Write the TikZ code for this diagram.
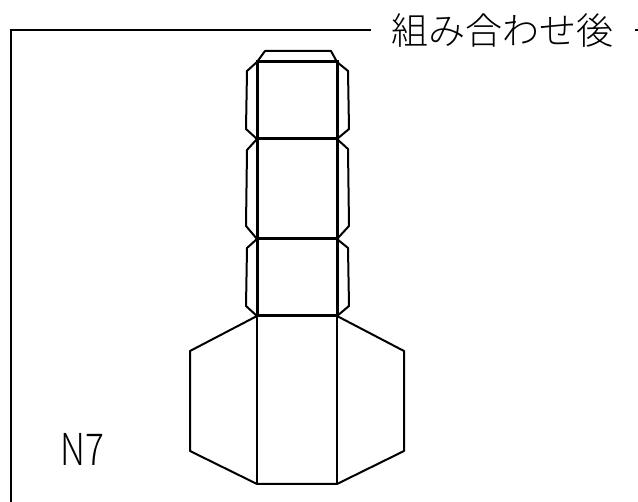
\documentclass[tikz,border=0pt]{standalone}
\usepackage{fontspec}
\setmainfont{Noto Sans CJK JP Light}
\tikzset{
  outline/.style={draw=black, line width=2pt, line join=round},
  fold/.style={draw=black, line width=3pt},
  framing/.style={draw=black, line width=1.5pt},
  caption/.style={inner sep=0pt, font=\fontsize{37}{37}\selectfont},
  tall caption/.style={inner sep=0pt, xscale=0.8, transform shape, font=\fontsize{44}{44}\selectfont}
}
\begin{document}
\begin{tikzpicture}[x=1pt,y=-1pt]
        \useasboundingbox (0,0) rectangle (638,502);

        % Frame
        \node[caption] (title) at (502,31) {組み合わせ後};
        \coordinate (framestart) at (11,502);
        \coordinate (framecorner) at (11,30);
        \coordinate (frameend) at (371,30);
        \draw[framing] (framestart) -- (framecorner) -- (frameend);
        \draw[framing] (635,30) -- (638,30);

        % Lower flaps
        \draw[outline] (257,316) -- (190,351) -- (190,451) -- (257,484) -- (337,484) -- (404,451) -- (404,351) -- (337,316);
        \draw[outline] (257,316) -- (257,484);
        \draw[outline] (337,316) -- (337,484);

        % Upper flaps
        \draw[outline] (257,62) -- (265,51) -- (331,51) -- (337,62);
        \draw[outline] (257,62) -- (247,71) -- (246,129) -- (257,139);
        \draw[outline] (337,62) -- (348,71) -- (349,129) -- (337,139);
        \draw[outline] (257,139) -- (247,150) -- (246,226) -- (257,239);
        \draw[outline] (337,139) -- (348,149) -- (349,226) -- (337,239);
        \draw[outline] (257,239) -- (247,248) -- (246,306) -- (257,316);
        \draw[outline] (337,239) -- (348,248) -- (349,306) -- (337,316);

        % Fold lines
        \draw[fold] (257,62) rectangle (337,139);
        \draw[fold] (257,139) rectangle (337,239);
        \draw[fold] (257,239) rectangle (337,316);

        % Labels
        \node[tall caption] (label) at (82.5,449) {N7};
      \end{tikzpicture}
\end{document}
